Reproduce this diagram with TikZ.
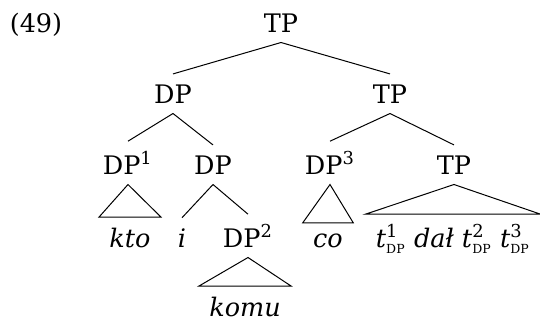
\documentclass[tikz,border=0pt]{standalone}
\usepackage{tikz}
\usepackage{amsmath}
\usepackage{fontspec}
\setmainfont{DejaVu Serif}
\newcommand{\roof}[2]{\draw (#1.south) -- (#2.north west) -- (#2.north east) -- cycle}
\newcommand{\trc}[1]{\textit{t}$^{\text{#1}}_{\text{\fontsize{5}{6}\selectfont DP}}$}

\begin{document}
\begin{tikzpicture}[x=0.4pt,y=-0.4pt,
  every node/.style={font=\fontsize{10.2}{12}\selectfont,inner sep=4pt,anchor=base}]
\useasboundingbox (0,0) rectangle (540,322);
\node (ex) at (36,32) {(49)};
%
\node (tp) at (281,32) {TP};
	\node (dp) at (173,103) {DP};
	\node (tpb) at (390,103) {TP};
\draw (tp.south) -- (dp.north);
\draw (tp.south) -- (tpb.north);
%
\node (dpa) at (128,174) {DP$^{\text{1}}$};
\node (dpb) at (213,174) {DP};
\draw (dp.south) -- (dpa.north);
\draw (dp.south) -- (dpb.north);
	\node (kto) at (130,247) {\textit{kto}};
	\roof{dpa}{kto};
	\node (i) at (182,247) {\textit{i}};
	\node (dpc) at (248,247) {DP$^{\text{2}}$};
	\draw (dpb.south) -- (i.north);
	\draw (dpb.south) -- (dpc.north);
	\node (komu) at (245,316) {\textit{komu}};
	\roof{dpc}{komu};
%
\node (dpd) at (330,174) {DP$^{\text{3}}$};
\node (tpc) at (454,174) {TP};
\draw (tpb.south) -- (dpd.north);
\draw (tpb.south) -- (tpc.north);
	\node (co) at (328,247) {\textit{co}};
	\roof{dpd}{co};
	\node (dal) at (453,247) {\trc{1} \textit{dał} \trc{2} \trc{3}};
	\roof{tpc}{dal};
\end{tikzpicture}
\end{document}
